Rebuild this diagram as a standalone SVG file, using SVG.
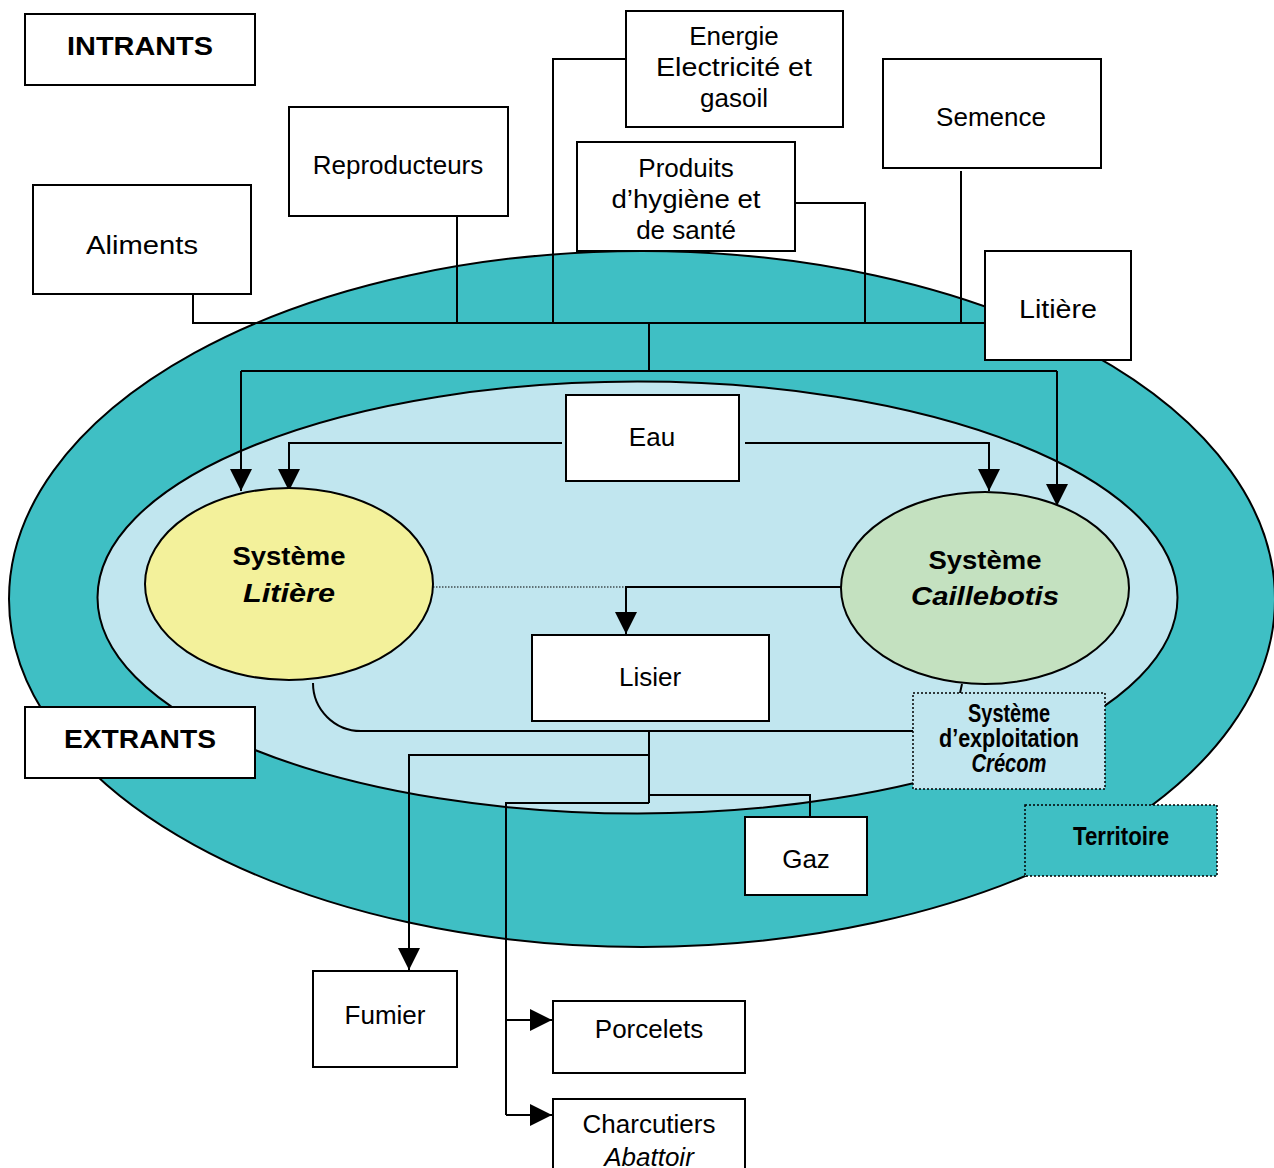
<svg xmlns="http://www.w3.org/2000/svg" width="1274" height="1168" viewBox="0 0 1274 1168">
<defs>
<marker id="arr" markerUnits="userSpaceOnUse" markerWidth="22" markerHeight="22" viewBox="0 0 20 20" refX="20" refY="10" orient="auto">
<path d="M0,0 L20,10 L0,20 Z" fill="#000"/>
</marker>
<style>
.box{fill:#fff;stroke:#000;stroke-width:2}
.dot{stroke:#000;stroke-width:1.5;stroke-dasharray:2 2}
.t{font-family:"Liberation Sans",Arial,sans-serif;font-size:26px;fill:#000;text-anchor:middle}
.b{font-weight:bold}
.i{font-style:italic}
.ln{fill:none;stroke:#000;stroke-width:2}
.ar{fill:none;stroke:#000;stroke-width:2;marker-end:url(#arr)}
</style>
</defs>
<rect width="1274" height="1168" fill="#fff"/>
<g id="territoire-zone">
<ellipse cx="642" cy="599" rx="633" ry="348" fill="#3FBFC4" stroke="#000" stroke-width="2"/>
</g>
<g id="exploitation-zone">
<ellipse cx="637.5" cy="597.5" rx="540" ry="216" fill="#C1E6EF" stroke="#000" stroke-width="2"/>
</g>
<g id="connectors">
<polyline class="ln" points="193,294 193,323 985,323"/>
<line class="ln" x1="457" y1="216" x2="457" y2="323"/>
<polyline class="ln" points="626,59 553,59 553,323"/>
<polyline class="ln" points="794,203 865,203 865,323"/>
<line class="ln" x1="961" y1="171" x2="961" y2="323"/>
<line class="ln" x1="649" y1="323" x2="649" y2="371"/>
<polyline class="ln" points="241,371 1057,371"/>
<line class="ar" x1="241" y1="371" x2="241" y2="491"/>
<line class="ar" x1="1057" y1="371" x2="1057" y2="506"/>
<polyline class="ar" points="562,443 289,443 289,491"/>
<polyline class="ar" points="745,443 989,443 989,491"/>
<line x1="433" y1="587" x2="649" y2="587" stroke="#000" stroke-width="1.2" stroke-dasharray="1.5 1.5"/>
<polyline class="ar" points="850,587 626,587 626,634"/>
<path class="ln" d="M313,683 A48,48 0 0 0 361,731 L913,731"/>
<line class="ln" x1="962" y1="684" x2="960" y2="693"/>
<line class="ln" x1="649" y1="731" x2="649" y2="803"/>
<polyline class="ar" points="649,755 409,755 409,970"/>
<polyline class="ln" points="649,795 810,795 810,817"/>
<polyline class="ln" points="649,803 506,803 506,1115"/>
<line class="ar" x1="506" y1="1020" x2="552" y2="1020"/>
<line class="ar" x1="506" y1="1115" x2="552" y2="1115"/>
</g>
<g id="intrants"><rect class="box" x="25" y="14" width="230" height="71"/><text class="t b" x="140" y="55" font-size="30" textLength="146" lengthAdjust="spacingAndGlyphs">INTRANTS</text></g>
<g id="energie"><rect class="box" x="626" y="11" width="217" height="116"/><text class="t" x="734" y="45">Energie</text><text class="t" x="734" y="76" textLength="156" lengthAdjust="spacingAndGlyphs">Electricité et</text><text class="t" x="734" y="107">gasoil</text></g>
<g id="reproducteurs"><rect class="box" x="289" y="107" width="219" height="109"/><text class="t" x="398" y="174">Reproducteurs</text></g>
<g id="semence"><rect class="box" x="883" y="59" width="218" height="109"/><text class="t" x="991" y="126">Semence</text></g>
<g id="produits"><rect class="box" x="577" y="142" width="218" height="109"/><text class="t" x="686" y="177">Produits</text><text class="t" x="686" y="208" textLength="149" lengthAdjust="spacingAndGlyphs">d’hygiène et</text><text class="t" x="686" y="239">de santé</text></g>
<g id="aliments"><rect class="box" x="33" y="185" width="218" height="109"/><text class="t" x="142" y="254" textLength="112" lengthAdjust="spacingAndGlyphs">Aliments</text></g>
<g id="litiere-box"><rect class="box" x="985" y="251" width="146" height="109"/><text class="t" x="1058" y="318" textLength="78" lengthAdjust="spacingAndGlyphs">Litière</text></g>
<g id="eau"><rect class="box" x="566" y="395" width="173" height="86"/><text class="t" x="652" y="446">Eau</text></g>
<g id="systeme-litiere"><ellipse cx="289" cy="584" rx="144" ry="96" fill="#F3F19B" stroke="#000" stroke-width="2"/><text class="t b" x="289" y="565" font-size="29" textLength="113" lengthAdjust="spacingAndGlyphs">Système</text><text class="t b i" x="289" y="602" font-size="30" textLength="92" lengthAdjust="spacingAndGlyphs">Litière</text></g>
<g id="systeme-caillebotis"><ellipse cx="985" cy="588" rx="144" ry="96" fill="#C4E1C0" stroke="#000" stroke-width="2"/><text class="t b" x="985" y="569" font-size="29" textLength="113" lengthAdjust="spacingAndGlyphs">Système</text><text class="t b i" x="985" y="605" font-size="30" textLength="148" lengthAdjust="spacingAndGlyphs">Caillebotis</text></g>
<g id="lisier"><rect class="box" x="532" y="635" width="237" height="86"/><text class="t" x="650" y="686">Lisier</text></g>
<g id="systeme-exploitation"><rect class="dot" x="913" y="693" width="192" height="96" fill="#C1E6EF"/><text class="t b" x="1009" y="722" font-size="18" textLength="82" lengthAdjust="spacingAndGlyphs">Système</text><text class="t b" x="1009" y="747" font-size="18" textLength="140" lengthAdjust="spacingAndGlyphs">d’exploitation</text><text class="t b i" x="1009" y="772" font-size="18" textLength="75" lengthAdjust="spacingAndGlyphs">Crécom</text></g>
<g id="extrants"><rect class="box" x="25" y="707" width="230" height="71"/><text class="t b" x="140" y="748" font-size="30" textLength="152" lengthAdjust="spacingAndGlyphs">EXTRANTS</text></g>
<g id="gaz"><rect class="box" x="745" y="817" width="122" height="78"/><text class="t" x="806" y="868">Gaz</text></g>
<g id="territoire"><rect class="dot" x="1025" y="805" width="192" height="71" fill="#3FBFC4"/><text class="t b" x="1121" y="845" font-size="20" textLength="96" lengthAdjust="spacingAndGlyphs">Territoire</text></g>
<g id="fumier"><rect class="box" x="313" y="971" width="144" height="96"/><text class="t" x="385" y="1024">Fumier</text></g>
<g id="porcelets"><rect class="box" x="553" y="1001" width="192" height="72"/><text class="t" x="649" y="1038">Porcelets</text></g>
<g id="charcutiers"><rect class="box" x="553" y="1099" width="192" height="80"/><text class="t" x="649" y="1133">Charcutiers</text><text class="t i" x="649" y="1166">Abattoir</text></g>
</svg>
